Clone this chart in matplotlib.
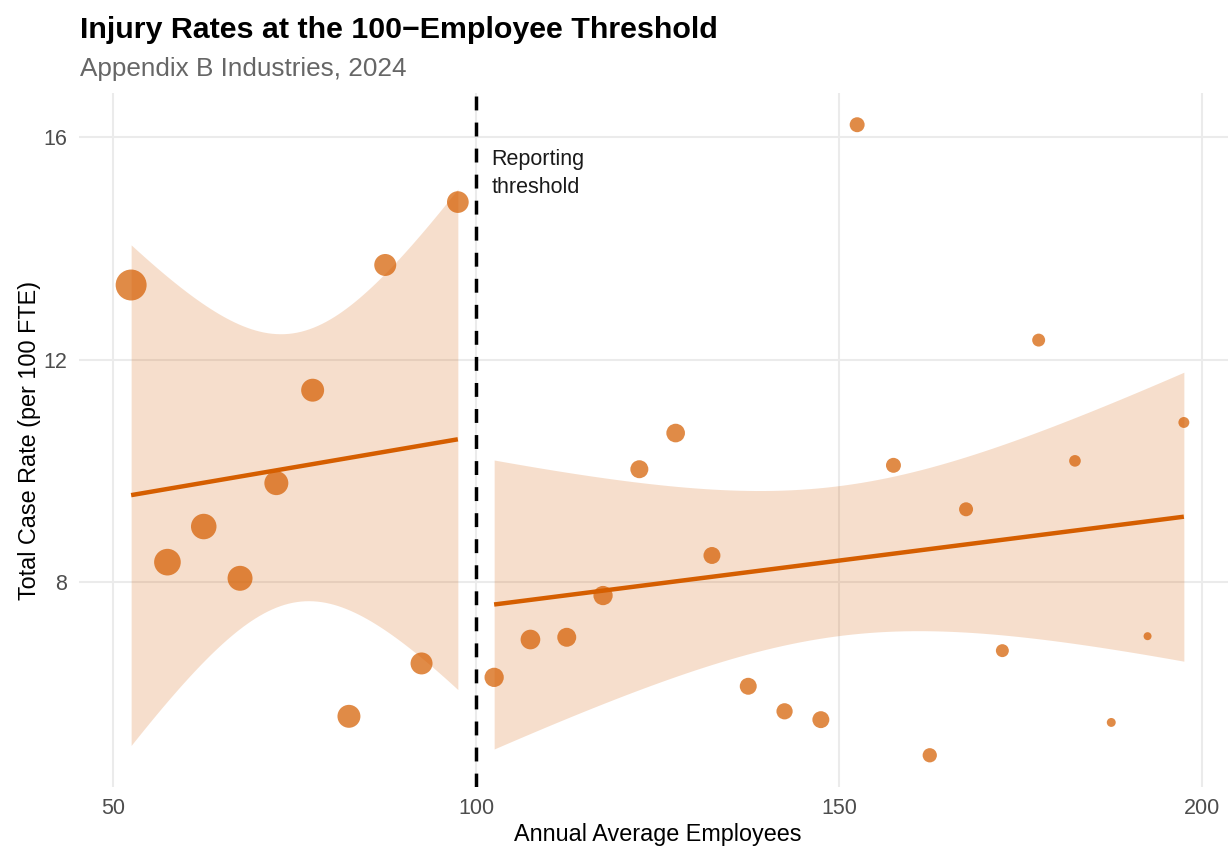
import math
import numpy as np
import matplotlib
matplotlib.use("Agg")
import matplotlib.pyplot as plt

plt.rcParams["font.family"] = ["Liberation Sans", "DejaVu Sans"]

# Industry-level data: size-class midpoint, total case rate, establishment count
employees = [52.5, 57.5, 62.5, 67.5, 72.5, 77.5, 82.5, 87.5, 92.5, 97.5,
             102.5, 107.5, 112.5, 117.5, 122.5, 127.5, 132.5, 137.5, 142.5, 147.5,
             152.5, 157.5, 162.5, 167.5, 172.5, 177.5, 182.5, 187.5, 192.5, 197.5]
case_rate = [13.34, 8.36, 9.00, 8.07, 9.78, 11.45, 5.59, 13.70, 6.54, 14.83,
             6.29, 6.97, 7.01, 7.76, 10.03, 10.68, 8.48, 6.13, 5.68, 5.53,
             16.22, 10.10, 4.89, 9.31, 6.77, 12.35, 10.18, 5.48, 7.03, 10.87]
establishments = [240, 178, 163, 156, 144, 132, 132, 121, 121, 118,
                  93, 97, 90, 93, 81, 87, 72, 72, 66, 72,
                  56, 56, 51, 49, 42, 42, 34, 20, 16, 30]
threshold = 100
x_ticks = [50, 100, 150, 200]
y_ticks = [8, 12, 16]

ORANGE = "#D55E00"

x = np.array(employees)
y = np.array(case_rate)
n_est = np.array(establishments)


def t_quantile(p, df):
    """Upper quantile of Student's t via numeric integration of the pdf."""
    c = math.exp(math.lgamma((df + 1) / 2) - math.lgamma(df / 2)) / math.sqrt(df * math.pi)
    grid = np.linspace(0, 10, 200001)
    pdf = c * (1 + grid ** 2 / df) ** (-(df + 1) / 2)
    cdf = 0.5 + np.concatenate([[0], np.cumsum((pdf[1:] + pdf[:-1]) / 2 * np.diff(grid))])
    return float(np.interp(p, cdf, grid))


def lm_band(xs, ys, level=0.95, n=80):
    """Ordinary least-squares fit with a confidence band for the mean."""
    k = len(xs)
    xm = xs.mean()
    sxx = ((xs - xm) ** 2).sum()
    b1 = ((xs - xm) * (ys - ys.mean())).sum() / sxx
    b0 = ys.mean() - b1 * xm
    resid = ys - (b0 + b1 * xs)
    s = math.sqrt((resid ** 2).sum() / (k - 2))
    xg = np.linspace(xs.min(), xs.max(), n)
    fit = b0 + b1 * xg
    se = s * np.sqrt(1 / k + (xg - xm) ** 2 / sxx)
    tq = t_quantile(1 - (1 - level) / 2, k - 2)
    return xg, fit, fit - tq * se, fit + tq * se


W, H = 1228, 848
fig = plt.figure(figsize=(W / 100, H / 100), dpi=100)
left_px, right_px, top_px, bottom_px = 78.5, 1236.5, 93, 787
ax = fig.add_axes([left_px / W, 1 - bottom_px / H,
                   (right_px - left_px) / W, (bottom_px - top_px) / H])

for spine in ax.spines.values():
    spine.set_visible(False)
ax.set_axisbelow(True)
ax.grid(True, color="#EBEBEB", linewidth=1.45)
ax.tick_params(length=0, labelsize=15.5, labelcolor="#4D4D4D", pad=8)

for mask in (x < threshold, x >= threshold):
    xg, fit, lo, hi = lm_band(x[mask], y[mask])
    ax.fill_between(xg, lo, hi, color=ORANGE, alpha=0.2, linewidth=0, zorder=2)
    ax.plot(xg, fit, color=ORANGE, linewidth=3.2, solid_capstyle="butt", zorder=3)

ax.axvline(threshold, color="black", linewidth=2.5, linestyle=(0, (4, 3.5)), zorder=4)

ax.scatter(x, y, s=n_est * 2.07, color=ORANGE, alpha=0.72, linewidths=0, zorder=5)

ax.text(102.1, 15.78, "Reporting\nthreshold", ha="left", va="top", fontsize=15.5,
        color="#1A1A1A", linespacing=1.42, zorder=6)

ax.set_xlim(45.25, 204.75)
ax.set_ylim(4.32, 16.79)
ax.set_xticks(x_ticks)
ax.set_yticks(y_ticks)

ax.set_xlabel("Annual Average Employees", fontsize=16.8, color="black", labelpad=3)
ax.set_ylabel("Total Case Rate (per 100 FTE)", fontsize=16.8, color="black", labelpad=2)

fig.text(80 / W, 1 - 38 / H, "Injury Rates at the 100\u2212Employee Threshold",
         fontsize=21.9, fontweight="bold", ha="left", va="baseline", color="black")
fig.text(80 / W, 1 - 76 / H, "Appendix B Industries, 2024",
         fontsize=18.8, ha="left", va="baseline", color="#666666")

fig.savefig("out.png", dpi=100)
